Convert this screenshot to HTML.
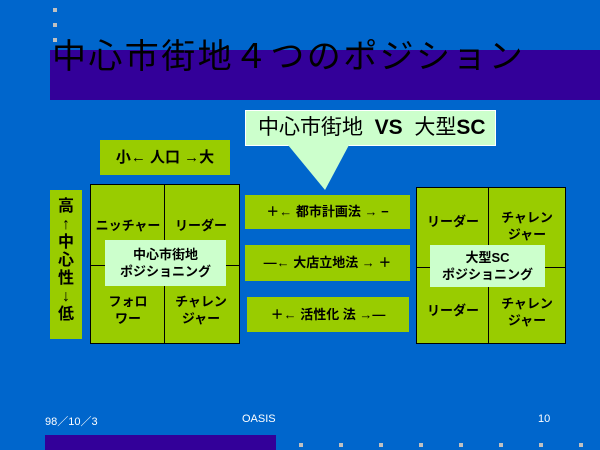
<!DOCTYPE html>
<html><head><meta charset="utf-8"><style>
body{margin:0;width:600px;height:450px;background:#0066cc;position:relative;overflow:hidden;font-family:"Liberation Sans","Noto Sans CJK JP",sans-serif;}
div{position:absolute;box-sizing:border-box;}
.g{background:#99cc00;}
.t{font-weight:bold;font-size:13px;color:#000;white-space:nowrap;text-align:center;line-height:17px;}
.dot{width:4px;height:4px;background:#c0c0c0;}
.lc{background:#ccffcc;}
</style></head><body>
<div class="dot" style="left:53px;top:8px"></div>
<div class="dot" style="left:53px;top:23px"></div>
<div class="dot" style="left:53px;top:38px"></div>
<div style="left:50px;top:50px;width:550px;height:50px;background:#330099"></div>
<div style="left:52px;top:37px;font-size:34px;letter-spacing:2.4px;line-height:40px;color:#000;white-space:nowrap">中心市街地４つのポジション</div>

<div class="lc" style="left:245px;top:110px;width:251px;height:36px;border:1px solid #fff;font-size:21px;line-height:34px;padding-left:12px;white-space:nowrap">中心市街地&nbsp; <b>VS</b>&nbsp; 大型<b>SC</b></div>
<svg style="position:absolute;left:0;top:0" width="600" height="450"><polygon points="288,145 349,145 325,190" fill="#ccffcc"/></svg>

<div class="g t" style="left:100px;top:140px;width:130px;height:35px;line-height:35px;font-size:15px">小←&nbsp;人口&nbsp;→大</div>
<div class="g t" style="left:50px;top:190px;width:32px;height:149px;font-size:16px;line-height:18px;padding-top:8px;white-space:normal">高<br>↑<br>中<br>心<br>性<br>↓<br>低</div>

<div class="g" style="left:90px;top:184px;width:150px;height:160px;border:1px solid #000"></div>
<div style="left:164px;top:185px;width:1px;height:158px;background:#000"></div>
<div style="left:91px;top:265px;width:148px;height:1px;background:#000"></div>
<div class="t" style="left:92px;top:217px;width:72px">ニッチャー</div>
<div class="t" style="left:165px;top:217px;width:72px">リーダー</div>
<div class="t" style="left:92px;top:293px;width:72px">フォロ<br>ワー</div>
<div class="t" style="left:165px;top:293px;width:72px">チャレン<br>ジャー</div>
<div class="lc t" style="left:105px;top:240px;width:121px;height:46px;padding-top:6px">中心市街地<br>ポジショニング</div>

<div class="g t" style="left:245px;top:195px;width:165px;height:34px;line-height:34px">＋←&nbsp;都市計画法&nbsp;→&nbsp;−</div>
<div class="g t" style="left:245px;top:245px;width:165px;height:36px;line-height:36px">—←&nbsp;大店立地法&nbsp;→&nbsp;＋</div>
<div class="g t" style="left:247px;top:297px;width:162px;height:35px;line-height:35px">＋←&nbsp;活性化&nbsp;法&nbsp;→—</div>

<div class="g" style="left:416px;top:187px;width:150px;height:157px;border:1px solid #000"></div>
<div style="left:488px;top:188px;width:1px;height:155px;background:#000"></div>
<div style="left:417px;top:267px;width:148px;height:1px;background:#000"></div>
<div class="t" style="left:418px;top:213px;width:70px">リーダー</div>
<div class="t" style="left:489px;top:209px;width:76px">チャレン<br>ジャー</div>
<div class="t" style="left:418px;top:302px;width:70px">リーダー</div>
<div class="t" style="left:489px;top:295px;width:76px">チャレン<br>ジャー</div>
<div class="lc t" style="left:430px;top:245px;width:115px;height:42px;padding-top:4px">大型SC<br>ポジショニング</div>

<div style="left:45px;top:413px;font-size:11px;color:#fff">98／10／3</div>
<div style="left:242px;top:413px;font-size:11px;color:#fff">OASIS</div>
<div style="left:538px;top:413px;font-size:11px;color:#fff">10</div>
<div style="left:45px;top:435px;width:231px;height:15px;background:#330099"></div>
<div class="dot" style="left:299px;top:443px"></div>
<div class="dot" style="left:339px;top:443px"></div>
<div class="dot" style="left:379px;top:443px"></div>
<div class="dot" style="left:419px;top:443px"></div>
<div class="dot" style="left:459px;top:443px"></div>
<div class="dot" style="left:499px;top:443px"></div>
<div class="dot" style="left:539px;top:443px"></div>
<div class="dot" style="left:579px;top:443px"></div>
</body></html>
